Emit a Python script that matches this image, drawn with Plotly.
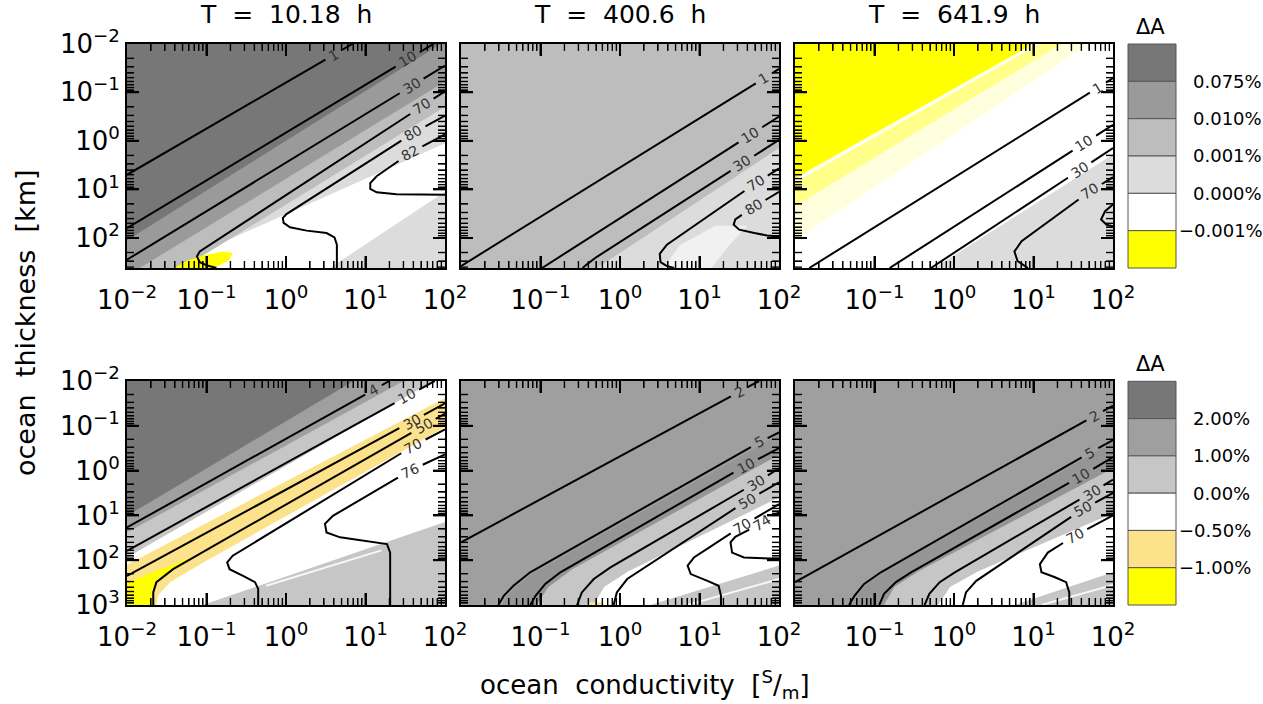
import math
import plotly.graph_objects as go

# ---------------------------------------------------------------------------
# Values.  u = log10(conductivity / (S/m)),  v = log10(thickness / km)
# ---------------------------------------------------------------------------
PERIOD_TITLES = ["T  =  10.18  h", "T  =  400.6  h", "T  =  641.9  h"]

SIGMA_LOG_RANGE = (-2.0, 2.0)
THICK_LOG_RANGE_TOP = (-2.0, 2.62)
THICK_LOG_RANGE_BOTTOM = (-2.0, 3.0)

SIGMA_TICKS = [0.01, 0.1, 1, 10, 100]
THICK_TICKS_TOP = [0.01, 0.1, 1, 10, 100]
THICK_TICKS_BOTTOM = [0.01, 0.1, 1, 10, 100, 1000]
MINOR_MULTIPLIERS = [2, 3, 4, 5, 6, 7, 8, 9]

DA_LABELS_TOP = ["0.075%", "0.010%", "0.001%", "0.000%", "−0.001%"]
DA_LABELS_BOTTOM = ["2.00%", "1.00%", "0.00%", "−0.50%", "−1.00%"]

# --- T = 10.18 h, amplitude difference classes 0..5 (top colour bar) ---
P1_BACKGROUND = 3
P1_REGION_CLASS = [4, 2, 1, 0, 5]
P1_REGION_ALPHA = [1, 1, 1, 1, 1]
P1_REGIONS = [
    [(-1.52, 2.62), (2.0, 0.05), (2.0, 1.05), (0.55, 2.62)],
    [(-2, -2), (2, -2), (2, -0.70), (-1.30, 2.62), (-2, 2.62)],
    [(-2, -2), (2, -2), (2, -1.22), (-1.84, 2.62), (-2, 2.62)],
    [(-2, -2), (1.95, -2), (-2, 2.05)],
    [(-1.40, 2.62), (-1.25, 2.47), (-1.04, 2.36), (-0.79, 2.28), (-0.67, 2.31),
     (-0.71, 2.45), (-0.83, 2.56), (-0.90, 2.62)],
]
P1_LEVELS = ["1", "10", "30", "70", "80", "82"]
P1_LABEL_U = [0.60, 1.53, 1.58, 1.71, 1.60, 1.56]
P1_LINES = [
    [(0.84, -2.0), (-2.0, 0.70)],
    [(1.86, -2.0), (-2.0, 1.80)],
    [(2.0, -1.55), (-2.0, 2.45)],
    [(2.0, -1.02), (1.71, -0.71), (-1.085, 2.28), (-1.12, 2.38), (-1.085, 2.50),
     (-0.99, 2.57), (-0.875, 2.62)],
    [(2.0, -0.52), (1.60, -0.16), (0.006, 1.51), (-0.04, 1.59), (-0.03, 1.69),
     (0.05, 1.78), (0.26, 1.85), (0.51, 1.90), (0.61, 1.99), (0.64, 2.14), (0.64, 2.62)],
    [(2.0, -0.13), (1.56, 0.25), (1.14, 0.73), (1.06, 0.87), (1.06, 0.99),
     (1.14, 1.06), (1.39, 1.10), (2.0, 1.11)],
]
P1_STREAK = []

# --- T = 400.6 h ---
P2_BACKGROUND = 2
P2_REGION_CLASS = [3, 4]
P2_REGION_ALPHA = [1, 0.6]
P2_REGIONS = [
    [(-0.29, 2.62), (2.0, 0.15), (2.0, 2.62)],
    [(0.55, 2.62), (0.75, 2.15), (1.2, 1.75), (1.6, 1.75), (1.35, 2.2), (1.15, 2.62)],
]
P2_LEVELS = ["1", "10", "30", "70", "80"]
P2_LABEL_U = [1.81, 1.64, 1.54, 1.71, 1.68]
P2_LINES = [
    [(2.0, -1.48), (-2.0, 2.58)],
    [(2.0, -0.50), (-0.98, 2.62)],
    [(2.0, -0.02), (-0.30, 2.40), (-0.42, 2.55), (-0.47, 2.62)],
    [(2.0, 0.57), (1.71, 0.87), (0.59, 2.14), (0.50, 2.33), (0.51, 2.50),
     (0.59, 2.58), (0.68, 2.62)],
    [(2.0, 1.05), (1.60, 1.45), (1.45, 1.62), (1.43, 1.73), (1.50, 1.83),
     (1.69, 1.90), (1.85, 1.95), (2.0, 1.97)],
]
P2_STREAK = []

# --- T = 641.9 h ---
P3_BACKGROUND = 4
P3_REGION_CLASS = [3, 5, 5, 4, 5]
P3_REGION_ALPHA = [1, 0.13, 0.38, 0.9, 1]
P3_REGIONS = [
    [(-0.25, 2.62), (2.0, 0.28), (2.0, 2.62)],
    [(-2, -2), (1.70, -2), (-2, 2.05)],
    [(-2, -2), (1.35, -2), (-2, 1.35)],
    [(-2, -2), (1.08, -2), (-2, 0.86)],
    [(-2, -2), (1.00, -2), (-2, 0.77)],
]
P3_LEVELS = ["1", "10", "30", "70", ""]
P3_LABEL_U = [1.81, 1.64, 1.58, 1.71, None]
P3_LINES = [
    [(2.0, -1.29), (-1.82, 2.62)],
    [(2.0, -0.33), (-0.81, 2.62)],
    [(2.0, 0.15), (-0.29, 2.62)],
    [(2.0, 0.75), (1.71, 1.04), (0.85, 2.07), (0.76, 2.28), (0.80, 2.48), (0.93, 2.62)],
    [(2.0, 1.31), (1.90, 1.45), (1.85, 1.62), (1.92, 1.73), (2.0, 1.76)],
]
P3_STREAK = []

# --- T = 10.18 h, classes 0..5 (bottom colour bar) ---
P4_BACKGROUND = 3
P4_REGION_CLASS = [2, 4, 5, 2, 1, 0]
P4_REGION_ALPHA = [1, 1, 1, 1, 1, 1]
P4_REGIONS = [
    [(-1.05, 3.0), (2.0, 1.15), (2.0, 3.0)],
    [(-2, 2.10), (2, -1.62), (2, -0.97), (-1.04, 2.05), (-1.46, 2.49), (-1.61, 2.79),
     (-1.63, 3.0), (-2, 3.0)],
    [(-2, 2.49), (-1.17, 1.93), (-1.42, 2.2), (-1.63, 2.49), (-1.69, 2.72),
     (-1.69, 3.0), (-2, 3.0)],
    [(-2, -2), (1.85, -2), (-2, 1.94)],
    [(-2, -2), (1.48, -2), (-2, 1.38)],
    [(-2, -2), (0.85, -2), (-2, 1.01)],
]
P4_LEVELS = ["4", "10", "30", "50", "70", "76"]
P4_LABEL_U = [1.10, 1.52, 1.58, 1.73, 1.60, 1.56]
P4_LINES = [
    [(1.30, -2.0), (-2.0, 1.27)],
    [(1.87, -2.0), (-2.0, 1.79)],
    [(2.0, -1.50), (-2.0, 2.35)],
    [(2.0, -1.27), (1.73, -1.0), (-1.42, 2.2), (-1.63, 2.49), (-1.67, 2.72), (-1.67, 3.0)],
    [(2.0, -0.92), (1.60, -0.55), (-0.67, 1.90), (-0.74, 2.05), (-0.71, 2.20),
     (-0.54, 2.35), (-0.39, 2.49), (-0.35, 2.64), (-0.35, 3.0)],
    [(2.0, -0.36), (1.56, 0.0), (0.59, 1.01), (0.49, 1.19), (0.51, 1.38), (0.68, 1.49),
     (1.10, 1.59), (1.27, 1.64), (1.31, 1.83), (1.31, 3.0)],
]
P4_STREAK = [(-0.25, 2.57), (1.2, 1.78)]

# --- T = 400.6 h ---
P5_BACKGROUND = 1
P5_REGION_CLASS = [0, 2, 3, 2, 4]
P5_REGION_ALPHA = [0.25, 1, 1, 1, 1]
P5_REGIONS = [
    [(2.0, -0.80), (-1.10, 2.30), (-1.30, 2.57), (-1.42, 2.79), (-1.48, 3.0),
     (-1.05, 3.0), (-0.9, 2.6), (-0.6, 2.2), (2.0, -0.35)],
    [(-1.05, 3.0), (-0.9, 2.6), (-0.6, 2.2), (2.0, -0.35), (2.0, 3.0)],
    [(-0.33, 3.0), (-0.2, 2.6), (0.1, 2.25), (2.0, 0.6), (2.0, 3.0)],
    [(0.38, 3.0), (2.0, 2.12), (2.0, 3.0)],
    [(-0.42, 3.0), (-0.40, 2.94), (-0.22, 2.94), (-0.20, 3.0)],
]
P5_LEVELS = ["2", "5", "10", "30", "50", "70", "74"]
P5_LABEL_U = [1.50, 1.75, 1.58, 1.71, 1.60, 1.54, 1.78]
P5_LINES = [
    [(1.75, -2.0), (-2.0, 1.60)],
    [(2.0, -0.85), (1.75, -0.63), (-1.13, 2.27), (-1.34, 2.57), (-1.46, 2.79), (-1.53, 3.0)],
    [(2.0, -0.50), (1.58, -0.11), (-0.75, 2.27), (-0.94, 2.53), (-1.06, 2.79), (-1.13, 3.0)],
    [(2.0, -0.05), (1.71, 0.27), (-0.12, 2.16), (-0.33, 2.42), (-0.48, 2.72), (-0.54, 3.0)],
    [(2.0, 0.26), (1.60, 0.67), (0.30, 2.16), (0.09, 2.42), (-0.04, 2.72), (-0.08, 3.0)],
    [(2.0, 0.75), (1.54, 1.23), (0.93, 1.94), (0.85, 2.12), (0.89, 2.31), (1.10, 2.46),
     (1.24, 2.57), (1.27, 2.79), (1.27, 3.0)],
    [(2.0, 0.93), (1.75, 1.20), (1.45, 1.48), (1.39, 1.60), (1.41, 1.83), (1.56, 1.94),
     (2.0, 1.97)],
]
P5_STREAK = [(0.85, 3.0), (2.0, 2.42)]

# --- T = 641.9 h ---
P6_BACKGROUND = 1
P6_REGION_CLASS = [0, 2, 3, 2]
P6_REGION_ALPHA = [0.25, 1, 1, 1]
P6_REGIONS = [
    [(2.0, -0.63), (-0.89, 2.27), (-1.10, 2.53), (-1.22, 2.79), (-1.29, 3.0),
     (-0.88, 3.0), (-0.75, 2.6), (-0.45, 2.25), (2.0, -0.05)],
    [(-0.88, 3.0), (-0.75, 2.6), (-0.45, 2.25), (2.0, -0.05), (2.0, 3.0)],
    [(-0.2, 3.0), (-0.05, 2.6), (0.3, 2.25), (2.0, 0.95), (2.0, 3.0)],
    [(0.76, 3.0), (2.0, 2.27), (2.0, 3.0)],
]
P6_LEVELS = ["2", "5", "10", "30", "50", "70"]
P6_LABEL_U = [1.77, 1.71, 1.60, 1.73, 1.62, 1.52]
P6_LINES = [
    [(2.0, -1.45), (-2.0, 2.49)],
    [(2.0, -0.68), (1.71, -0.40), (-0.92, 2.27), (-1.13, 2.53), (-1.25, 2.79), (-1.32, 3.0)],
    [(2.0, -0.30), (1.60, 0.12), (-0.54, 2.27), (-0.73, 2.49), (-0.88, 2.75), (-0.94, 3.0)],
    [(2.0, 0.20), (1.73, 0.49), (0.01, 2.27), (-0.18, 2.49), (-0.31, 2.75), (-0.37, 3.0)],
    [(2.0, 0.50), (1.62, 0.86), (0.47, 2.23), (0.28, 2.46), (0.15, 2.72), (0.11, 3.0)],
    [(2.0, 1.00), (1.52, 1.45), (1.18, 1.83), (1.08, 2.09), (1.10, 2.27), (1.27, 2.38),
     (1.41, 2.49), (1.45, 2.72), (1.45, 3.0)],
]
P6_STREAK = [(1.1, 3.0), (2.0, 2.55)]

# ---------------------------------------------------------------------------
# Layout and style
# ---------------------------------------------------------------------------
FIG_W, FIG_H = 1263, 704
COL_PX = [(127, 445), (461, 779), (795, 1113)]
ROW_PX = [(43.7, 268.0), (381.0, 605.0)]
CBAR_X = (1128, 1176)
MAJOR_LEN, MINOR_LEN = 12, 7
PALETTES = [
    ["#777777", "#9a9a9a", "#bdbdbd", "#dcdcdc", "#ffffff", "#ffff00"],
    ["#777777", "#9f9f9f", "#c6c6c6", "#ffffff", "#fde28c", "#ffff00"],
]
FONT = "DejaVu Sans"
NB = "\u00a0"

PANELS = [
    (0, 0, P1_BACKGROUND, P1_REGIONS, P1_REGION_CLASS, P1_REGION_ALPHA, P1_LEVELS, P1_LINES, P1_LABEL_U, P1_STREAK),
    (0, 1, P2_BACKGROUND, P2_REGIONS, P2_REGION_CLASS, P2_REGION_ALPHA, P2_LEVELS, P2_LINES, P2_LABEL_U, P2_STREAK),
    (0, 2, P3_BACKGROUND, P3_REGIONS, P3_REGION_CLASS, P3_REGION_ALPHA, P3_LEVELS, P3_LINES, P3_LABEL_U, P3_STREAK),
    (1, 0, P4_BACKGROUND, P4_REGIONS, P4_REGION_CLASS, P4_REGION_ALPHA, P4_LEVELS, P4_LINES, P4_LABEL_U, P4_STREAK),
    (1, 1, P5_BACKGROUND, P5_REGIONS, P5_REGION_CLASS, P5_REGION_ALPHA, P5_LEVELS, P5_LINES, P5_LABEL_U, P5_STREAK),
    (1, 2, P6_BACKGROUND, P6_REGIONS, P6_REGION_CLASS, P6_REGION_ALPHA, P6_LEVELS, P6_LINES, P6_LABEL_U, P6_STREAK),
]


def px(xp):
    return xp / FIG_W


def py(yp):
    return 1 - yp / FIG_H


def rgba(hexcol, a):
    h = hexcol.lstrip("#")
    r, g, b = int(h[0:2], 16), int(h[2:4], 16), int(h[4:6], 16)
    return f"rgba({r},{g},{b},{a})"


def power_label(val):
    e = int(round(math.log10(val)))
    s = ("−" + str(-e)) if e < 0 else str(e)
    return "10<sup>" + s + "</sup>"


def minor_values(majors, lo, hi):
    vals = [m * t for t in majors for m in MINOR_MULTIPLIERS]
    return [x for x in vals if lo < math.log10(x) < hi]


def split_for_label(pts, lab_u, gap, sx, sy):
    """Cut a gap into a polyline around the point where u == lab_u."""
    P = [(u * sx, v * sy) for u, v in pts]
    cum = [0.0]
    for a, b in zip(P[:-1], P[1:]):
        cum.append(cum[-1] + math.hypot(b[0] - a[0], b[1] - a[1]))
    seg, s_lab = 0, 0.0
    for i in range(len(pts) - 1):
        u0, u1 = pts[i][0], pts[i + 1][0]
        if u0 != u1 and min(u0, u1) <= lab_u <= max(u0, u1):
            t = (lab_u - u0) / (u1 - u0)
            seg, s_lab = i, cum[i] + t * (cum[i + 1] - cum[i])
            break

    def at(s):
        for j in range(len(cum) - 1):
            if cum[j] <= s <= cum[j + 1]:
                d = cum[j + 1] - cum[j]
                t = (s - cum[j]) / d if d > 0 else 0.0
                return (pts[j][0] + t * (pts[j + 1][0] - pts[j][0]),
                        pts[j][1] + t * (pts[j + 1][1] - pts[j][1]))
        return pts[-1]

    s_a = max(0.0, s_lab - gap / 2)
    s_b = min(cum[-1], s_lab + gap / 2)
    head = [p for p, c in zip(pts, cum) if c < s_a] + [at(s_a)]
    tail = [at(s_b)] + [p for p, c in zip(pts, cum) if c > s_b]
    a, b = P[seg], P[seg + 1]
    ang = math.degrees(math.atan2(a[1] - b[1], a[0] - b[0]))
    return head, tail, at(s_lab), ang


fig = go.Figure()
annotations = []
shapes = []
tick_x, tick_y = {2.0: [], 1.4: []}, {2.0: [], 1.4: []}

for k, (row, col, bg, regions, classes, alphas, levels, lines, lab_us, streak) in enumerate(PANELS, start=1):
    xr = "x" if k == 1 else f"x{k}"
    yr = "y" if k == 1 else f"y{k}"
    vrange = THICK_LOG_RANGE_TOP if row == 0 else THICK_LOG_RANGE_BOTTOM
    u_lo, u_hi = SIGMA_LOG_RANGE
    v_lo, v_hi = vrange
    pal = PALETTES[row]
    x0p, x1p = COL_PX[col]
    y0p, y1p = ROW_PX[row]
    sx = (x1p - x0p) / (u_hi - u_lo)
    sy = (y1p - y0p) / (v_hi - v_lo)

    def add_poly(poly, color):
        fig.add_trace(go.Scatter(
            x=[10 ** u for u, v in poly] + [10 ** poly[0][0]],
            y=[10 ** v for u, v in poly] + [10 ** poly[0][1]],
            mode="lines", fill="toself", fillcolor=color, line=dict(width=0),
            hoverinfo="skip", showlegend=False, xaxis=xr, yaxis=yr))

    # background class fills the whole panel
    add_poly([(u_lo, v_lo), (u_hi, v_lo), (u_hi, v_hi), (u_lo, v_hi)], pal[bg])
    for poly, c, a in zip(regions, classes, alphas):
        add_poly(poly, rgba(pal[c], a))
    if streak:
        fig.add_trace(go.Scatter(
            x=[10 ** u for u, v in streak], y=[10 ** v for u, v in streak],
            mode="lines", line=dict(color="rgba(255,255,255,0.85)", width=2),
            hoverinfo="skip", showlegend=False, xaxis=xr, yaxis=yr))

    # contour lines with inline labels
    xs, ys = [], []
    for text, pts, lu in zip(levels, lines, lab_us):
        if text and lu is not None:
            gap = 10 + 9 * len(text)
            head, tail, lab, ang = split_for_label(pts, lu, gap, sx, sy)
            parts = [head, tail]
            annotations.append(dict(
                x=lab[0], y=lab[1], xref=xr, yref=yr, text=text, textangle=ang,
                showarrow=False, xanchor="center", yanchor="middle",
                font=dict(family=FONT, size=14, color="#333333")))
        else:
            parts = [pts]
        for part in parts:
            if len(part) < 2:
                continue
            xs += [10 ** u for u, v in part] + [None]
            ys += [10 ** v for u, v in part] + [None]
    fig.add_trace(go.Scatter(
        x=xs, y=ys, mode="lines", line=dict(color="black", width=2),
        hoverinfo="skip", showlegend=False, xaxis=xr, yaxis=yr))

    # inward tick marks on all four sides, collected in figure pixels
    yticks = THICK_TICKS_TOP if row == 0 else THICK_TICKS_BOTTOM
    for vals_x, vals_y, length, width in (
            (SIGMA_TICKS[1:-1], yticks[1:-1], MAJOR_LEN, 2.0),
            (minor_values(SIGMA_TICKS, u_lo, u_hi), minor_values(yticks, v_lo, v_hi), MINOR_LEN, 1.4)):
        for t in vals_x:
            xp = x0p + (math.log10(t) - u_lo) * sx
            tick_x[width] += [xp, xp, None, xp, xp, None]
            tick_y[width] += [y1p, y1p - length, None, y0p, y0p + length, None]
        for t in vals_y:
            yp = y0p + (math.log10(t) - v_lo) * sy
            tick_x[width] += [x0p, x0p + length, None, x1p, x1p - length, None]
            tick_y[width] += [yp, yp, None, yp, yp, None]

    # axes (native inward ticks as well)
    common = dict(
        type="log", showgrid=False, zeroline=False, showline=True,
        linecolor="black", linewidth=2, mirror="allticks", automargin=False,
        ticks="inside", ticklen=MAJOR_LEN, tickwidth=2, tickcolor="black",
        tickmode="array",
        tickfont=dict(family=FONT, size=26, color="black"),
    )
    xticktext = [power_label(t) for t in SIGMA_TICKS]
    if col > 0:
        xticktext[0] = ""
    xaxis = dict(common, domain=[px(x0p), px(x1p)], range=[u_lo, u_hi],
                 anchor=yr, tickvals=SIGMA_TICKS, ticktext=xticktext,
                 ticklabelstandoff=8,
                 minor=dict(ticks="inside", ticklen=MINOR_LEN, tickwidth=1.4,
                            tickcolor="black", tickmode="array",
                            tickvals=minor_values(SIGMA_TICKS, u_lo, u_hi), showgrid=False))
    yaxis = dict(common, domain=[py(y1p), py(y0p)], range=[v_hi, v_lo],
                 anchor=xr, tickvals=yticks, ticktext=[power_label(t) for t in yticks],
                 showticklabels=(col == 0),
                 minor=dict(ticks="inside", ticklen=MINOR_LEN, tickwidth=1.4,
                            tickcolor="black", tickmode="array",
                            tickvals=minor_values(yticks, v_lo, v_hi), showgrid=False))
    fig.update_layout({("xaxis" if k == 1 else f"xaxis{k}"): xaxis,
                       ("yaxis" if k == 1 else f"yaxis{k}"): yaxis})

# full-figure overlay in pixel units, used for the frame tick marks
for width in tick_x:
    fig.add_trace(go.Scatter(
        x=tick_x[width], y=tick_y[width], mode="lines",
        line=dict(color="black", width=width, simplify=False),
        hoverinfo="skip", showlegend=False, xaxis="x7", yaxis="y7"))
fig.update_layout(
    xaxis7=dict(domain=[0, 1], range=[0, FIG_W], visible=False, fixedrange=True,
                anchor="y7", automargin=False),
    yaxis7=dict(domain=[0, 1], range=[FIG_H, 0], visible=False, fixedrange=True,
                anchor="x7", automargin=False),
)

# column titles
for col, title in enumerate(PERIOD_TITLES):
    cx = (COL_PX[col][0] + COL_PX[col][1]) / 2
    annotations.append(dict(
        x=px(cx), y=py(14), xref="paper", yref="paper", showarrow=False,
        text=title.replace(" ", NB), xanchor="center", yanchor="middle",
        font=dict(family=FONT, size=25, color="black")))

# colour bars (one per row of panels)
for row, labels in enumerate([DA_LABELS_TOP, DA_LABELS_BOTTOM]):
    y0p, y1p = ROW_PX[row]
    y0p += 0.3
    n = len(PALETTES[row])
    step = (y1p - y0p) / n
    for i, col in enumerate(PALETTES[row]):
        shapes.append(dict(
            type="rect", xref="paper", yref="paper",
            x0=px(CBAR_X[0]), x1=px(CBAR_X[1]),
            y0=py(y0p + (i + 1) * step), y1=py(y0p + i * step),
            fillcolor=col, line=dict(color="#555555", width=1)))
    for i, lab in enumerate(labels):
        yb = y0p + (i + 1) * step
        neg = lab.startswith("−")
        annotations.append(dict(
            x=px(1177 if neg else 1191), y=py(yb), xref="paper", yref="paper",
            text=lab, showarrow=False, xanchor="left", yanchor="middle",
            font=dict(family=FONT, size=18, color="black")))
    annotations.append(dict(
        x=px(1150), y=py(y0p - 17), xref="paper", yref="paper", text="ΔA",
        showarrow=False, xanchor="center", yanchor="middle",
        font=dict(family=FONT, size=21, color="black")))

# axis titles
annotations.append(dict(
    x=px(26), y=py(323), xref="paper", yref="paper", textangle=-90,
    text=NB.join(["ocean", "", "thickness", "", "[km]"]), showarrow=False,
    xanchor="center", yanchor="middle",
    font=dict(family=FONT, size=27, color="black")))
annotations.append(dict(
    x=px(645), y=py(684), xref="paper", yref="paper",
    text=NB.join(["ocean", "", "conductivity", "", "[<sup>S</sup>/<sub>m</sub>]"]),
    showarrow=False, xanchor="center", yanchor="middle",
    font=dict(family=FONT, size=26, color="black")))

fig.update_layout(
    width=FIG_W, height=FIG_H, margin=dict(l=0, r=0, t=0, b=0),
    paper_bgcolor="white", plot_bgcolor="rgba(0,0,0,0)", showlegend=False,
    annotations=annotations, shapes=shapes,
)

fig.write_html("out.html")
